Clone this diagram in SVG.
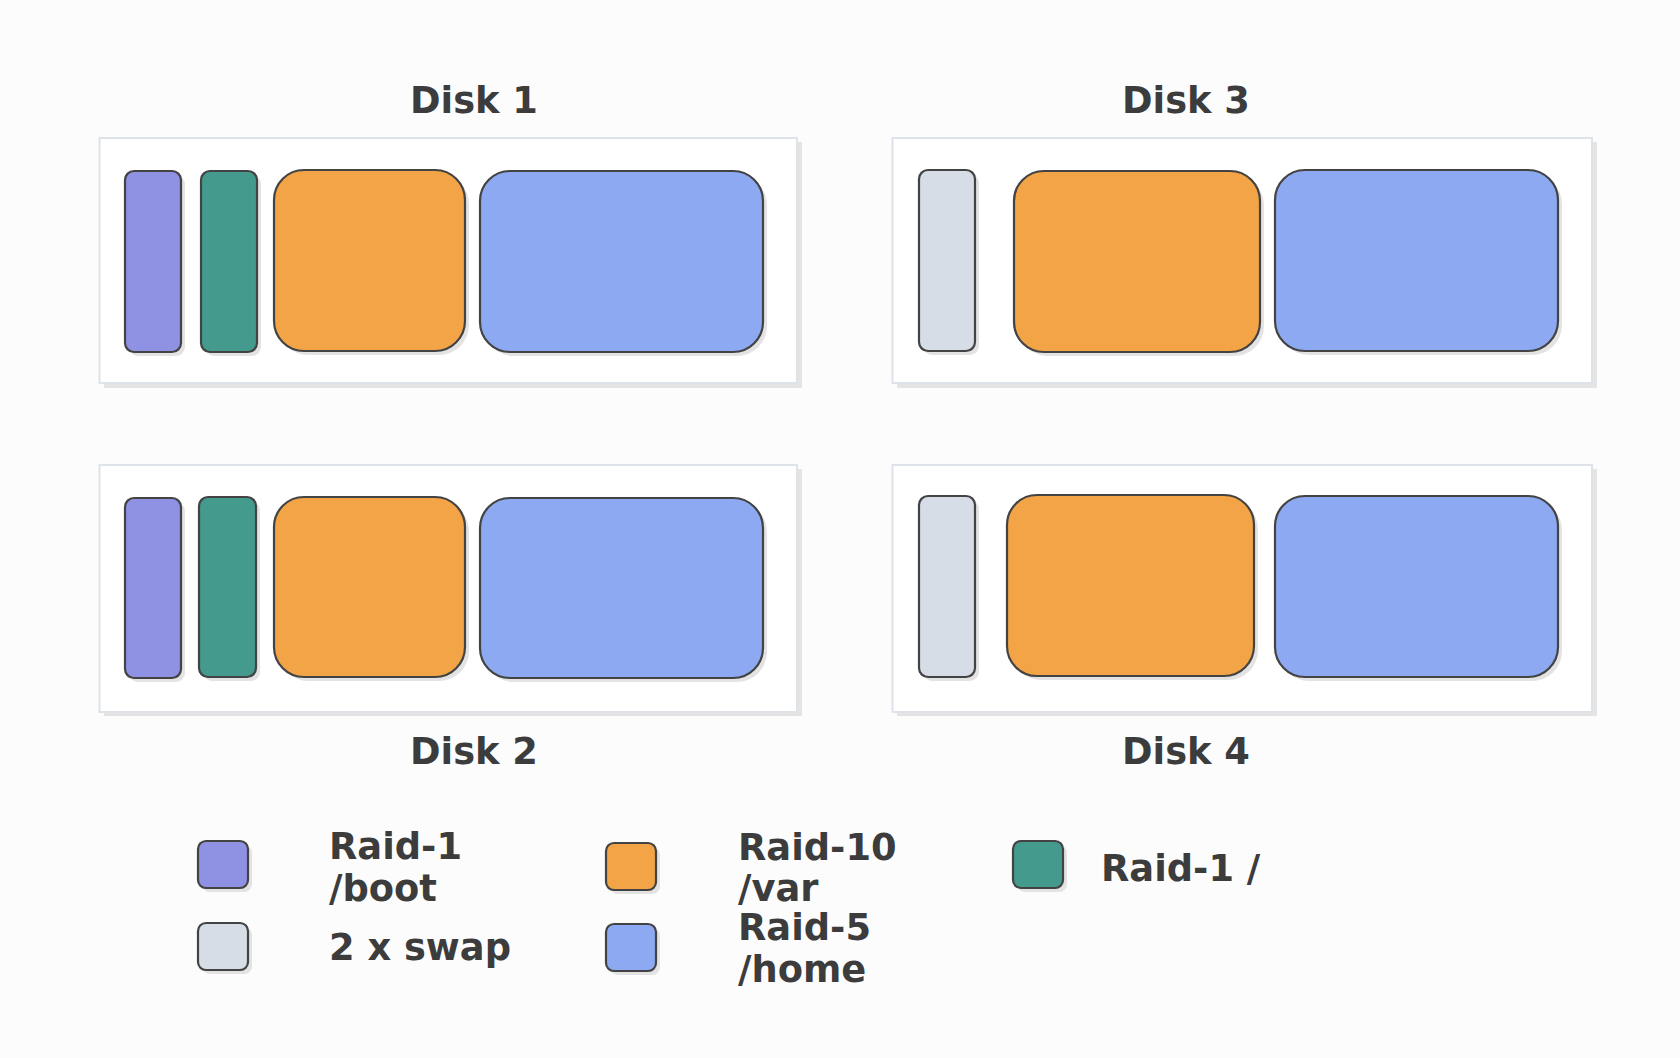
<svg xmlns="http://www.w3.org/2000/svg" width="1680" height="1058" viewBox="0 0 1680 1058">
<style>
.bg{fill:#fcfcfc}
.disk{fill:#ffffff;stroke:#dde3e9;stroke-width:2}
.dshadow{fill:#e4e4e4}
.sh{fill:#dcdcdc;opacity:0.8}
.p{stroke:#434343;stroke-width:2.2}
.boot{fill:#8f91e2}
.root{fill:#449a8d}
.var{fill:#f2a446}
.home{fill:#8da9f2}
.swap{fill:#d6dde6}
.t{font-family:"DejaVu Sans",sans-serif;font-weight:bold;font-size:36.8px;fill:#3c3c3c}
.title{text-anchor:middle}
</style>
<rect class="bg" x="0" y="0" width="1680" height="1058"/>

<g id="disk1">
  <rect class="dshadow" x="104" y="142" width="698" height="246"/>
  <rect class="disk" x="99.5" y="138" width="697.5" height="245"/>
  <rect class="sh" x="129" y="175" width="56" height="181" rx="9"/>
  <rect class="p boot" x="125" y="171" width="56" height="181" rx="9"/>
  <rect class="sh" x="205" y="175" width="56" height="181" rx="9"/>
  <rect class="p root" x="201" y="171" width="56" height="181" rx="9"/>
  <rect class="sh" x="278" y="174" width="191" height="181" rx="30"/>
  <rect class="p var" x="274" y="170" width="191" height="181" rx="30"/>
  <rect class="sh" x="484" y="175" width="283" height="181" rx="30"/>
  <rect class="p home" x="480" y="171" width="283" height="181" rx="30"/>
  <text class="t title" x="474" y="113">Disk 1</text>
</g>

<g id="disk3">
  <rect class="dshadow" x="897" y="142" width="700" height="246"/>
  <rect class="disk" x="892.5" y="138" width="699.5" height="245"/>
  <rect class="sh" x="923" y="174" width="56" height="181" rx="9"/>
  <rect class="p swap" x="919" y="170" width="56" height="181" rx="9"/>
  <rect class="sh" x="1018" y="175" width="246" height="181" rx="30"/>
  <rect class="p var" x="1014" y="171" width="246" height="181" rx="30"/>
  <rect class="sh" x="1279" y="174" width="283" height="181" rx="30"/>
  <rect class="p home" x="1275" y="170" width="283" height="181" rx="30"/>
  <text class="t title" x="1186" y="113">Disk 3</text>
</g>

<g id="disk2">
  <rect class="dshadow" x="104" y="469" width="698" height="247"/>
  <rect class="disk" x="99.5" y="465" width="697.5" height="247"/>
  <rect class="sh" x="129" y="502" width="56" height="180" rx="9"/>
  <rect class="p boot" x="125" y="498" width="56" height="180" rx="9"/>
  <rect class="sh" x="203" y="501" width="57" height="180" rx="9"/>
  <rect class="p root" x="199" y="497" width="57" height="180" rx="9"/>
  <rect class="sh" x="278" y="501" width="191" height="180" rx="30"/>
  <rect class="p var" x="274" y="497" width="191" height="180" rx="30"/>
  <rect class="sh" x="484" y="502" width="283" height="180" rx="30"/>
  <rect class="p home" x="480" y="498" width="283" height="180" rx="30"/>
  <text class="t title" x="474" y="764">Disk 2</text>
</g>

<g id="disk4">
  <rect class="dshadow" x="897" y="469" width="700" height="247"/>
  <rect class="disk" x="892.5" y="465" width="699.5" height="247"/>
  <rect class="sh" x="923" y="500" width="56" height="181" rx="9"/>
  <rect class="p swap" x="919" y="496" width="56" height="181" rx="9"/>
  <rect class="sh" x="1011" y="499" width="247" height="181" rx="30"/>
  <rect class="p var" x="1007" y="495" width="247" height="181" rx="30"/>
  <rect class="sh" x="1279" y="500" width="283" height="181" rx="30"/>
  <rect class="p home" x="1275" y="496" width="283" height="181" rx="30"/>
  <text class="t title" x="1186" y="764">Disk 4</text>
</g>

<g id="legend-boot">
  <rect class="sh" x="202" y="845" width="50" height="47" rx="8"/>
  <rect class="p boot" x="198" y="841" width="50" height="47" rx="8"/>
  <text class="t" x="329" y="859">Raid-1</text>
  <text class="t" x="329" y="901">/boot</text>
</g>
<g id="legend-swap">
  <rect class="sh" x="202" y="927" width="50" height="47" rx="8"/>
  <rect class="p swap" x="198" y="923" width="50" height="47" rx="8"/>
  <text class="t" x="329" y="960">2 x swap</text>
</g>
<g id="legend-var">
  <rect class="sh" x="610" y="847" width="50" height="47" rx="8"/>
  <rect class="p var" x="606" y="843" width="50" height="47" rx="8"/>
  <text class="t" x="738" y="860">Raid-10</text>
  <text class="t" x="738" y="901">/var</text>
</g>
<g id="legend-home">
  <rect class="sh" x="610" y="928" width="50" height="47" rx="8"/>
  <rect class="p home" x="606" y="924" width="50" height="47" rx="8"/>
  <text class="t" x="738" y="940">Raid-5</text>
  <text class="t" x="738" y="982">/home</text>
</g>
<g id="legend-root">
  <rect class="sh" x="1017" y="845" width="50" height="47" rx="8"/>
  <rect class="p root" x="1013" y="841" width="50" height="47" rx="8"/>
  <text class="t" x="1101" y="881">Raid-1 /</text>
</g>
<g id="connectors"/>
</svg>
